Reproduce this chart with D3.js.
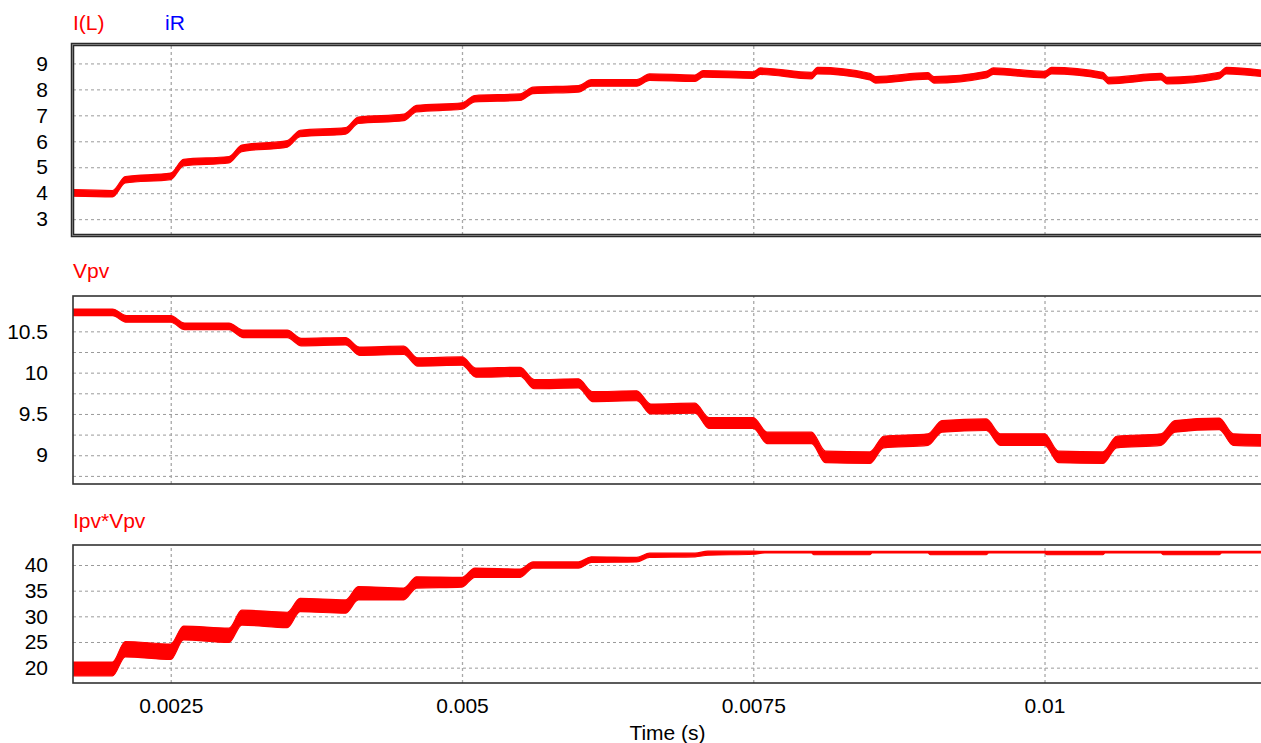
<!DOCTYPE html>
<html><head><meta charset="utf-8">
<script src="https://cdn.jsdelivr.net/npm/d3@7"></script>
<style>
body{margin:0;background:#fff;}
svg{display:block;font-family:"Liberation Sans",Arial,sans-serif;}
</style>
</head><body>
<svg id="c" width="1261" height="743"></svg>
<script>
// ---------------- data ----------------
const xTickValues = [0.0025, 0.005, 0.0075, 0.01];
const xTickLabels = ["0.0025", "0.005", "0.0075", "0.01"];
const xTitle = "Time (s)";

// Panel 1: I(L)
const ilGrid = [3, 4, 5, 6, 7, 8, 9];
const ilLabels = ["3", "4", "5", "6", "7", "8", "9"];
const tIL = [0.00166,0.00200,0.00211,0.00250,0.00261,0.00300,0.00311,0.00350,0.00361,0.00400,
             0.00411,0.00450,0.00461,0.00500,0.00511,0.00550,0.00561,0.00600,0.00611,0.00650,
             0.00661,0.00700,0.00707,0.00750,0.00756,0.00800,0.00805,0.00850,0.00855,0.00900,
             0.00905,0.00950,0.00956,0.01000,0.01006,0.01050,0.01055,0.01100,0.01105,0.01150,
             0.01156,0.01190];
const iL  = [4.01,3.98,4.52,4.65,5.18,5.29,5.73,5.90,6.30,6.40,
             6.81,6.92,7.26,7.36,7.64,7.70,7.96,8.02,8.25,8.25,
             8.47,8.43,8.60,8.55,8.70,8.53,8.72,8.49,8.37,8.52,
             8.37,8.57,8.70,8.57,8.72,8.53,8.34,8.49,8.34,8.53,
             8.72,8.60];
const iLRipple = 0.25; // peak-to-peak switching ripple

// Panel 2: Vpv
const vGrid = [8.75, 9, 9.25, 9.5, 9.75, 10, 10.25, 10.5, 10.75];
const vLabelValues = [9, 9.5, 10, 10.5];
const vLabels = ["9", "9.5", "10", "10.5"];
const tV = [0.00166,0.00200,0.00212,0.00250,0.00262,0.00300,0.00312,0.00350,0.00362,0.00400,
            0.00412,0.00450,0.00462,0.00500,0.00512,0.00550,0.00562,0.00600,0.00612,0.00650,
            0.00662,0.00700,0.00712,0.00750,0.00762,0.00800,0.00812,0.00850,0.00862,0.00900,
            0.00912,0.00950,0.00962,0.01000,0.01012,0.01050,0.01062,0.01100,0.01112,0.01150,
            0.01162,0.01190];
const vpv = [10.73,10.73,10.65,10.65,10.56,10.56,10.47,10.47,10.37,10.38,
             10.26,10.27,10.13,10.14,10.00,10.01,9.86,9.87,9.71,9.72,
             9.56,9.57,9.39,9.39,9.21,9.21,8.98,8.97,9.16,9.19,
             9.35,9.37,9.19,9.19,8.98,8.97,9.16,9.19,9.35,9.38,
             9.19,9.18];
const vRipple = [0.08,0.08,0.08,0.08,0.08,0.08,0.09,0.09,0.09,0.09,
                 0.10,0.10,0.10,0.10,0.11,0.11,0.11,0.11,0.12,0.12,
                 0.12,0.12,0.13,0.13,0.14,0.14,0.14,0.14,0.14,0.14,
                 0.14,0.14,0.14,0.14,0.14,0.14,0.14,0.14,0.14,0.14,
                 0.14,0.14];

// Panel 3: Ipv*Vpv
const pGrid = [20, 25, 30, 35, 40];
const pLabels = ["20", "25", "30", "35", "40"];
const tP = [0.00166,0.00200,0.00211,0.00250,0.00261,0.00300,0.00311,0.00350,0.00361,0.00400,
            0.00411,0.00450,0.00461,0.00500,0.00511,0.00550,0.00561,0.00600,0.00611,0.00650,
            0.00661,0.00700,0.00711,0.00750,0.00760,0.00800,0.00802,0.00850,0.00852,0.00900,
            0.00902,0.00950,0.00952,0.01000,0.01002,0.01050,0.01052,0.01100,0.01102,0.01150,
            0.01152,0.01190];
const pLo = [18.4,18.4,22.1,21.6,25.4,24.9,28.3,27.8,30.9,30.6,
             33.2,33.2,35.5,35.7,37.6,37.6,39.4,39.4,40.5,40.6,
             41.5,41.6,41.9,42.1,42.35,42.35,42.0,42.0,42.35,42.35,
             42.0,42.0,42.35,42.35,42.0,42.0,42.35,42.35,42.0,42.0,
             42.35,42.35];
const pHi = [21.1,21.1,25.1,24.6,28.1,27.7,31.2,30.8,33.5,33.2,
             35.8,35.5,37.7,37.6,39.4,39.2,40.6,40.6,41.6,41.5,
             42.3,42.3,42.7,42.7,42.65,42.65,42.65,42.65,42.65,42.65,
             42.65,42.65,42.65,42.65,42.65,42.65,42.65,42.65,42.65,42.65,
             42.65,42.65];

// ---------------- layout ----------------
const svg = d3.select("#c");
const left = 73, right = 1264;
const x = d3.scaleLinear().domain([0.001661, 0.011884]).range([left, right]);
const RED = "#ff0000";

const panels = [
  {top: 45, bottom: 235, domain: [2.39, 9.71], grid: ilGrid, labVals: ilGrid, labs: ilLabels,
   titles: [{text: "I(L)", x: 73, color: RED}, {text: "iR", x: 165, color: "#0000ff"}], titleY: 30,
   data: tIL.map((t, i) => ({t, lo: iL[i] - iLRipple / 2, hi: iL[i] + iLRipple / 2})), selected: true},
  {top: 296, bottom: 484, domain: [8.652, 10.928], grid: vGrid, labVals: vLabelValues, labs: vLabels,
   titles: [{text: "Vpv", x: 73, color: RED}], titleY: 278,
   data: tV.map((t, i) => ({t, lo: vpv[i] - vRipple[i] / 2, hi: vpv[i] + vRipple[i] / 2}))},
  {top: 545, bottom: 683, domain: [17.01, 43.90], grid: pGrid, labVals: pGrid, labs: pLabels,
   titles: [{text: "Ipv*Vpv", x: 73, color: RED}], titleY: 528,
   data: tP.map((t, i) => ({t, lo: pLo[i], hi: pHi[i]}))}
];

panels.forEach((p, k) => {
  const y = d3.scaleLinear().domain(p.domain).range([p.bottom, p.top]);
  const g = svg.append("g");
  const w = right - left, h = p.bottom - p.top;

  const clipId = "clip" + k;
  svg.append("clipPath").attr("id", clipId)
    .append("rect").attr("x", left).attr("y", p.top).attr("width", w).attr("height", h);

  // horizontal grid
  const hg = g.append("g").attr("transform", `translate(${left},0)`)
    .call(d3.axisLeft(y).tickValues(p.grid).tickSize(-w).tickFormat(""));
  hg.select(".domain").remove();
  hg.selectAll("line").attr("stroke", "#9a9a9a").attr("stroke-dasharray", "3,3").attr("stroke-width", 1);

  // vertical grid
  const vg = g.append("g").attr("transform", `translate(0,${p.bottom})`)
    .call(d3.axisBottom(x).tickValues(xTickValues).tickSize(-h).tickFormat(""));
  vg.select(".domain").remove();
  vg.selectAll("line").attr("stroke", "#a8a8a8").attr("stroke-dasharray", "3,3").attr("stroke-width", 1.3);

  // y labels
  const yl = g.append("g").attr("transform", `translate(${left},0)`)
    .call(d3.axisLeft(y).tickValues(p.labVals).tickSize(0).tickPadding(25)
      .tickFormat((d, i) => p.labs[i]));
  yl.select(".domain").remove();
  yl.selectAll("text").attr("font-size", 21).attr("fill", "#000")
    .attr("font-family", "'Liberation Sans', Arial, sans-serif");

  // signal band
  const area = d3.area().curve(d3.curveMonotoneX)
    .x(d => x(d.t)).y0(d => y(d.lo)).y1(d => y(d.hi));
  g.append("path").datum(p.data).attr("clip-path", `url(#${clipId})`)
    .attr("d", area).attr("fill", RED).attr("stroke", RED).attr("stroke-width", 1.2)
    .attr("stroke-linejoin", "round");

  // frame
  if (p.selected) {
    g.append("rect").attr("x", left - 0.5).attr("y", p.top - 0.5).attr("width", w + 10).attr("height", h + 1)
      .attr("fill", "none").attr("stroke", "#2a2a2a").attr("stroke-width", 3.5);
    g.append("rect").attr("x", left - 0.5).attr("y", p.top - 0.5).attr("width", w + 10).attr("height", h + 1)
      .attr("fill", "none").attr("stroke", "#c8c8c8").attr("stroke-width", 1).attr("stroke-dasharray", "1,1");
  } else {
    g.append("rect").attr("x", left).attr("y", p.top).attr("width", w + 10).attr("height", h)
      .attr("fill", "none").attr("stroke", "#333").attr("stroke-width", 1.6);
  }

  // titles
  p.titles.forEach(tt => {
    svg.append("text").attr("x", tt.x).attr("y", p.titleY).text(tt.text)
      .attr("fill", tt.color).attr("font-size", 21);
  });

  // x labels on last panel
  if (k === panels.length - 1) {
    const xa = g.append("g").attr("transform", `translate(0,${p.bottom})`)
      .call(d3.axisBottom(x).tickValues(xTickValues).tickSize(0).tickPadding(15)
        .tickFormat((d, i) => xTickLabels[i]));
    xa.select(".domain").remove();
    xa.selectAll("text").attr("font-size", 21).attr("fill", "#000")
      .attr("font-family", "'Liberation Sans', Arial, sans-serif");
    svg.append("text").attr("x", (left + right) / 2 - 1).attr("y", 740).attr("text-anchor", "middle")
      .attr("font-size", 21).attr("fill", "#000").text(xTitle);
  }
});
</script>
</body></html>
